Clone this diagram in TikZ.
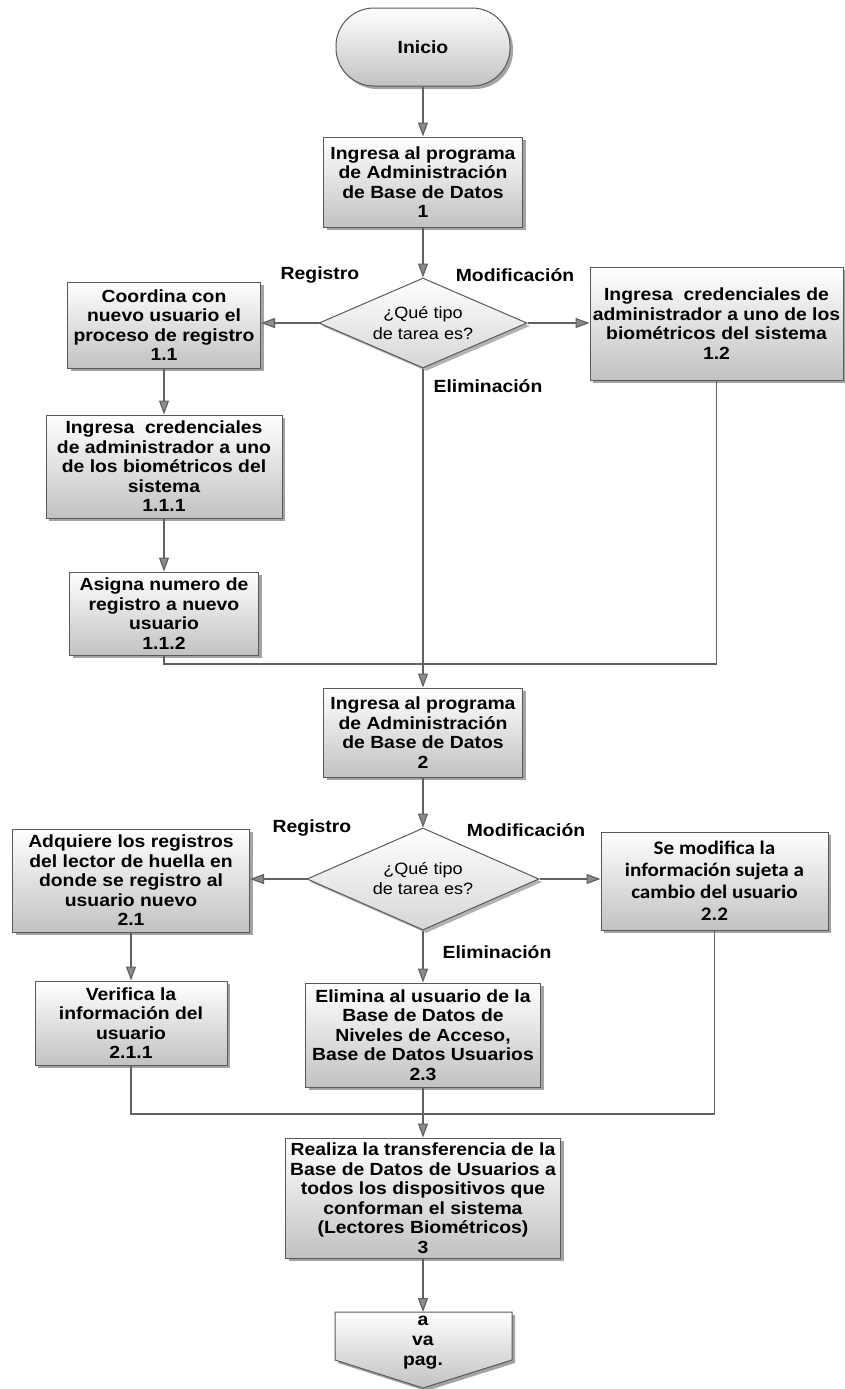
\documentclass[tikz,border=0pt]{standalone}
\usepackage{fontspec}
\newfontfamily\arialb{Liberation Sans}[FakeStretch=1.1]
\newfontfamily\carlb{Carlito}[FakeStretch=1.1]
\usetikzlibrary{shapes.geometric,shadows,arrows.meta}
\begin{document}
\begin{tikzpicture}[x=0.5pt,y=-0.5pt,
  txt/.style={font=\arialb\bfseries\fontsize{8.8pt}{9.75pt}\selectfont, align=center},
  shade/.style={draw=black!65, line width=0.5pt, top color=white, middle color=white, bottom color=black!24,
    drop shadow={shadow xshift=1.5pt,shadow yshift=-1.5pt,fill=black!60,opacity=0.6}},
  stepbox/.style={shade, inner sep=0pt, txt},
  decision/.style={diamond, shape aspect=2.3, draw=black!65, line width=0.5pt, top color=white, bottom color=black!16,
    drop shadow={shadow xshift=1.5pt,shadow yshift=-1.5pt,fill=black!60,opacity=0.5},
    inner sep=0pt, align=center, font=\arialb\fontsize{8.2pt}{8pt}\selectfont},
  link/.style={draw=black!62, line width=0.6pt},
  arr/.style={link, -{Triangle[length=7pt,width=5pt,fill=black!45]}},
  lab/.style={txt}
]
\useasboundingbox (0,0) rectangle (845,1389);

% nodes
\node[stepbox, rounded corners=19pt, minimum width=87pt, minimum height=39pt] (ini) at (423,47) {Inicio};
\node[stepbox, minimum width=99.5pt, minimum height=45pt] (b1) at (423,182)
  {Ingresa al programa\\de Administración\\de Base de Datos\\1};
\node[decision, minimum width=104pt, minimum height=45pt] (d1) at (423,323) {\raisebox{-2pt}{\shortstack{¿Qué tipo\\de tarea es?}}};
\node[stepbox, minimum width=96.5pt, minimum height=43pt] (b11) at (164,325)
  {Coordina con\\nuevo usuario el\\proceso de registro\\1.1};
\node[stepbox, minimum width=126.5pt, minimum height=56.5pt] (b12) at (716.5,323.5)
  {Ingresa\ \ credenciales de\\administrador a uno de los\\biométricos del sistema\\1.2};
\node[stepbox, minimum width=118pt, minimum height=51.5pt] (b111) at (164,466.5)
  {Ingresa\ \ credenciales\\de administrador a uno\\de los biométricos del\\sistema\\1.1.1};
\node[stepbox, minimum width=94.5pt, minimum height=41.5pt] (b112) at (164,613.5)
  {Asigna numero de\\registro a nuevo\\usuario\\1.1.2};
\node[stepbox, minimum width=99.5pt, minimum height=44.5pt] (b2) at (423,732.5)
  {Ingresa al programa\\de Administración\\de Base de Datos\\2};
\node[decision, minimum width=116pt, minimum height=51pt, font=\arialb\fontsize{8.2pt}{10pt}\selectfont] (d2) at (423,879) {¿Qué tipo\\de tarea es?};
\node[stepbox, minimum width=118.5pt, minimum height=51.5pt] (b21) at (131,880.5)
  {Adquiere los registros\\del lector de huella en\\donde se registro al\\usuario nuevo\\2.1};
\node[stepbox, minimum width=113.5pt, minimum height=49pt, font=\carlb\bfseries\fontsize{9.6pt}{11pt}\selectfont] (b22) at (714.5,881)
  {Se modifica la\\información sujeta a\\cambio del usuario\\2.2};
\node[stepbox, minimum width=96pt, minimum height=42pt] (b211) at (131,1023)
  {Verifica la\\información del\\usuario\\2.1.1};
\node[stepbox, minimum width=117.5pt, minimum height=52pt] (b23) at (423,1035)
  {Elimina al usuario de la\\Base de Datos de\\Niveles de Acceso,\\Base de Datos Usuarios\\2.3};
\node[stepbox, minimum width=137.5pt, minimum height=60pt] (b3) at (423,1198)
  {Realiza la transferencia de la\\Base de Datos de Usuarios a\\todos los dispositivos que\\conforman el sistema\\(Lectores Biométricos)\\3};

% off-page connector
\draw[shade] (335,1312) -- (512,1312) -- (512,1360) -- (423,1388) -- (335,1360) -- cycle;
\node[minimum width=88.5pt, minimum height=24pt, inner sep=0pt, anchor=north] (off) at (423,1312) {};
\node[txt, font=\arialb\bfseries\fontsize{8.8pt}{10pt}\selectfont] (offtxt) at (423,1343) {a\\va\\pag.};

% labels
\node[lab] (r1) at (320,275) {Registro};
\node[lab] (m1) at (515,275) {Modificación};
\node[lab] (e1) at (488,386) {Eliminación};
\node[lab] (r2) at (312,828) {Registro};
\node[lab] (m2) at (526,830) {Modificación};
\node[lab] (e2) at (497,952) {Eliminación};

% junctions
\coordinate (j1) at (423,664);
\coordinate (j2) at (423,1114);

% connectors
\draw[arr] (ini) -- (b1);
\draw[arr] (b1) -- (d1);
\draw[arr] (d1.west) -- (d1.west -| b11.east);
\draw[arr] (d1.east) -- (d1.east -| b12.west);
\draw[arr] (b11) -- (b111);
\draw[arr] (b111) -- (b112);
\draw[arr] (d1.south) -- (b2.north);
\draw[link] (b112.south) |- (j1);
\draw[link] (b12.south) |- (j1);
\draw[arr] (b2) -- (d2);
\draw[arr] (d2.west) -- (d2.west -| b21.east);
\draw[arr] (d2.east) -- (d2.east -| b22.west);
\draw[arr] (b21) -- (b211);
\draw[arr] (d2.south) -- (b23.north);
\draw[link] (b211.south) |- (j2);
\draw[link] (b22.south) |- (j2);
\draw[arr] (b23) -- (b3);
\draw[arr] (b3) -- (off.north);
\end{tikzpicture}
\end{document}
